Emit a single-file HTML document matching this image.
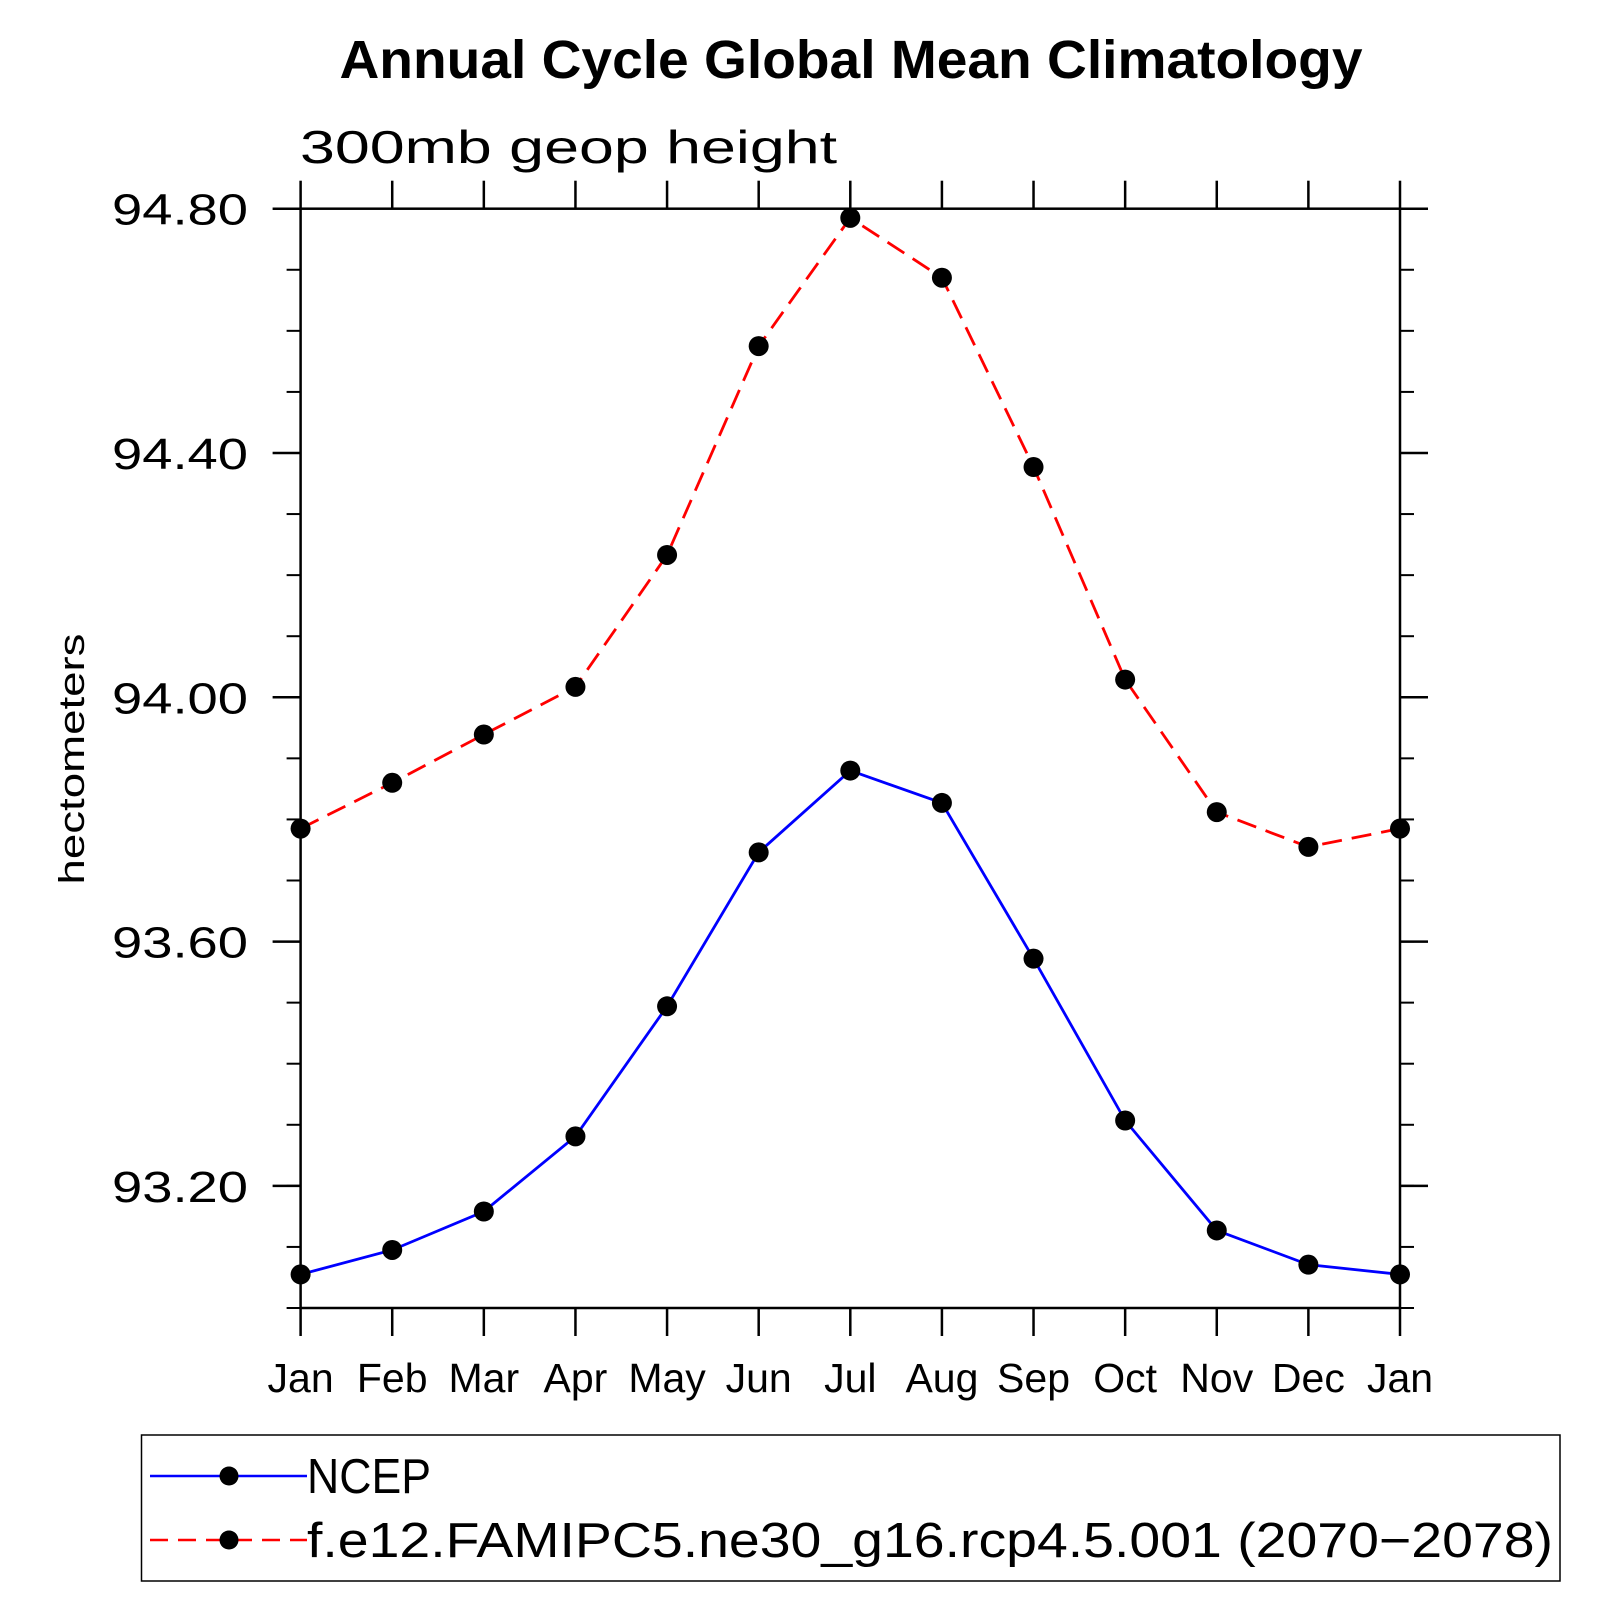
<!DOCTYPE html>
<html><head><meta charset="utf-8"><style>html,body{margin:0;padding:0;background:#fff}svg{display:block}</style></head>
<body>
<svg id="chart" width="1619" height="1619" viewBox="0 0 1619 1619" xmlns="http://www.w3.org/2000/svg" font-family="'Liberation Sans', sans-serif">
<text x="851" y="78" text-anchor="middle" font-size="54" font-weight="bold" textLength="1023" lengthAdjust="spacingAndGlyphs">Annual Cycle Global Mean Climatology</text>
<text x="300" y="163" font-size="46" textLength="537" lengthAdjust="spacingAndGlyphs" font-weight="300">300mb geop height</text>
<text transform="translate(84,759) rotate(-90)" text-anchor="middle" font-size="36" textLength="251" lengthAdjust="spacingAndGlyphs">hectometers</text>
<g id="axes"></g>
<g id="series"></g>
<g id="legend">
<rect x="141.5" y="1435" width="1418.5" height="146" fill="none" stroke="#000" stroke-width="1.5"/>
<g>
<line x1="150" y1="1476" x2="307" y2="1476" stroke="#00f" stroke-width="2.5"/>
<circle cx="229" cy="1476" r="9.5" fill="#000"/>
<text x="307" y="1493" font-size="49" textLength="124" lengthAdjust="spacingAndGlyphs">NCEP</text>
</g>
<g>
<line x1="150" y1="1540" x2="307" y2="1540" stroke="#f00" stroke-width="2.5" stroke-dasharray="18,10"/>
<circle cx="229" cy="1540" r="9.5" fill="#000"/>
<text x="307" y="1557" font-size="49" textLength="1246" lengthAdjust="spacingAndGlyphs">f.e12.FAMIPC5.ne30_g16.rcp4.5.001 (2070−2078)</text>
</g>
</g>
</svg>
<script>
const months = ["Jan","Feb","Mar","Apr","May","Jun","Jul","Aug","Sep","Oct","Nov","Dec","Jan"];
const ncepValues = [93.055,93.095,93.158,93.281,93.494,93.746,93.880,93.827,93.572,93.307,93.127,93.071,93.055];
const modelValues = [93.785,93.860,93.939,94.017,94.233,94.575,94.785,94.687,94.377,94.029,93.812,93.755,93.785];
const yTickLabels = ["93.20","93.60","94.00","94.40","94.80"];
const yMin = 93.0, yMax = 94.8;

const NS = "http://www.w3.org/2000/svg";
const L = 300.6, R = 1400, T = 208.7, B = 1308;
const xs = i => L + (R - L) * i / (months.length - 1);
const ys = v => B - (B - T) * (v - yMin) / (yMax - yMin);
function mk(tag, attrs, parent) { const e = document.createElementNS(NS, tag); for (const k in attrs) e.setAttribute(k, attrs[k]); parent.appendChild(e); return e; }
const axes = document.getElementById("axes");
const frame = mk("rect", {x:L, y:T, width:R-L, height:B-T, fill:"none", stroke:"#000", "stroke-width":2.5}, axes);


months.forEach((m, i) => {
  const x = xs(i);
  const t1 = mk("line", {x1:x, y1:T, x2:x, y2:T-28, stroke:"#000", "stroke-width":2.5}, axes);
  
  
  const t2 = mk("line", {x1:x, y1:B, x2:x, y2:B+28, stroke:"#000", "stroke-width":2.5}, axes);
  
  
  const lb = mk("text", {x:x, y:1392, "text-anchor":"middle", "font-size":41}, axes);
  lb.textContent = m;
  
  
});
for (let k = 0; k <= Math.round((yMax - yMin) / 0.1); k++) {
  const y = ys(yMin + k * 0.1);
  const a = mk("line", {x1:L, y1:y, x2:L-14, y2:y, stroke:"#000", "stroke-width":2}, axes);
  
  
  const b = mk("line", {x1:R, y1:y, x2:R+14, y2:y, stroke:"#000", "stroke-width":2}, axes);
  
  
}
yTickLabels.forEach(s => {
  const y = ys(parseFloat(s));
  const a = mk("line", {x1:L, y1:y, x2:L-28, y2:y, stroke:"#000", "stroke-width":2.5}, axes);
  
  
  const b = mk("line", {x1:R, y1:y, x2:R+28, y2:y, stroke:"#000", "stroke-width":2.5}, axes);
  
  
  const t = mk("text", {x:248, y:y+16, "text-anchor":"end", "font-size":44, textLength:136, lengthAdjust:"spacingAndGlyphs"}, axes);
  t.textContent = s;
  
  
});
const series = document.getElementById("series");
function drawSeries(vals, color, dash, name) {
  const g = mk("g", {}, series);
  
  
  const pl = mk("polyline", {points: vals.map((v,i)=>xs(i)+","+ys(v)).join(" "), fill:"none", stroke:color, "stroke-width":2.8, "stroke-dasharray":dash}, g);
  
  
  vals.forEach((v,i) => {
    const c = mk("circle", {cx:xs(i), cy:ys(v), r:10, fill:"#000"}, g);
    
    
  });
}
drawSeries(ncepValues, "#00f", "none", "ncep-series");
drawSeries(modelValues, "#f00", "20,10", "model-series");
</script>
</body></html>
